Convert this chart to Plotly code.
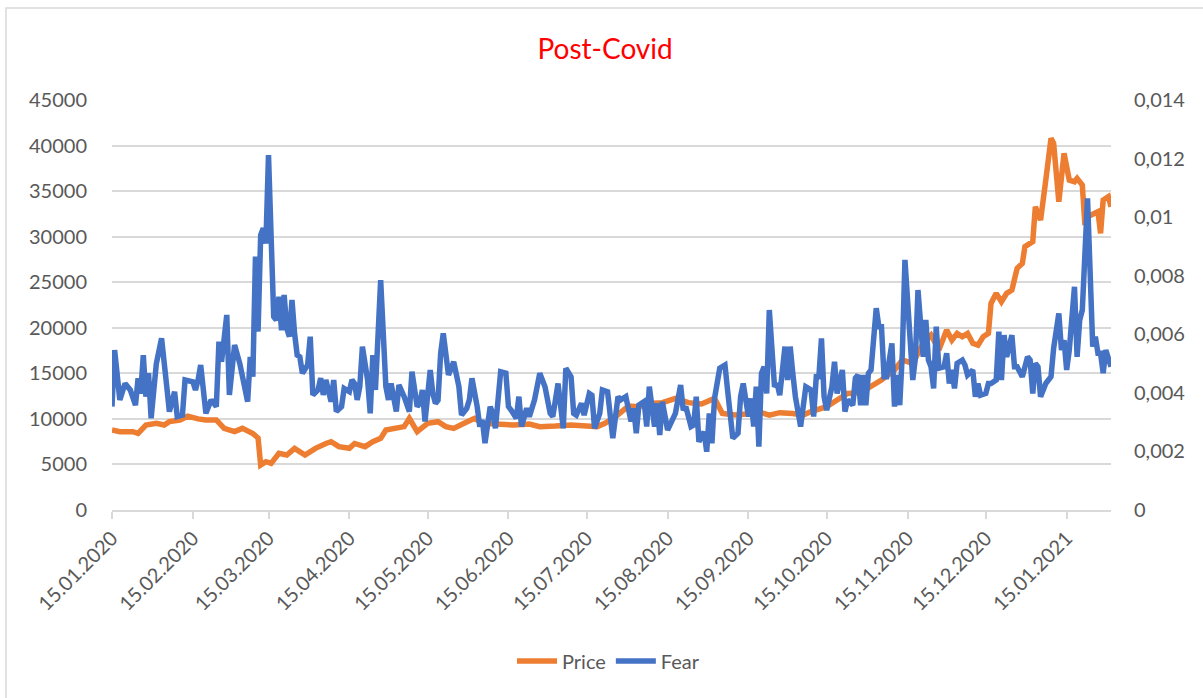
import datetime
import pandas as pd
import plotly.graph_objects as go

start_date = datetime.date(2020, 1, 15)

# Price, day offset from 15.01.2020 -> value
price_day = [0, 3, 8, 10, 13, 17, 20, 22, 26, 29, 33, 36, 40, 43, 47, 50, 54, 56, 57, 59,
             61, 64, 67, 70, 74, 78, 82, 84, 87, 91, 93, 97, 100, 103, 105, 109, 112, 114, 117, 121,
             125, 128, 131, 135, 139, 142, 147, 154, 160, 164, 170, 176, 182, 186, 189, 193, 198, 202, 206, 211,
             216, 221, 226, 231, 234, 239, 245, 249, 252, 256, 261, 265, 268, 274, 278, 282, 287, 292, 295, 300,
             303, 307, 311, 314, 317, 320, 322, 324, 326, 328, 330, 332, 334, 336, 337, 339, 341, 343, 345, 347,
             349, 350, 353, 354, 356, 358, 360, 361, 362, 363, 365, 367, 369, 370, 372, 373, 374, 378, 379, 380,
             382, 383]
price_value = [8780, 8600, 8600, 8420, 9330, 9510, 9330, 9700, 9880, 10300, 10000, 9880, 9880, 8960, 8600, 8960, 8400, 7900, 4940, 5300,
               5120, 6220, 6040, 6770, 6040, 6770, 7300, 7500, 6950, 6770, 7300, 6950, 7500, 7860, 8780, 8960, 9150, 10060, 8600, 9510,
               9690, 9150, 8960, 9510, 10060, 9510, 9440, 9330, 9440, 9150, 9220, 9330, 9220, 9150, 9510, 10240, 11410, 11340, 11700, 11780,
               12250, 11780, 11630, 12250, 10600, 10420, 10600, 10680, 10420, 10680, 10600, 10420, 10800, 11340, 12070, 12800, 12880, 13700, 14270, 15360,
               16460, 16100, 18290, 19200, 17560, 19750, 18650, 19390, 19020, 19390, 18290, 18100, 19020, 19390, 22680, 23780, 22860, 23780, 24140, 26520,
               27070, 28900, 29450, 33290, 31820, 36210, 40790, 40240, 37310, 33840, 39140, 36210, 36030, 36400, 35670, 31280, 32190, 32740, 30360, 34020,
               34390, 33290]

# Fear, day offset from 15.01.2020 -> value
fear_day = [0, 1, 3, 5, 7, 9, 10, 11, 12, 13, 14, 15, 17, 19, 21, 22, 24, 25, 27, 28,
            31, 32, 33, 34, 36, 38, 40, 41, 42, 44, 45, 47, 49, 52, 53, 54, 55, 56, 57, 58,
            59, 60, 62, 63, 64, 65, 66, 67, 68, 69, 70, 71, 72, 73, 75, 76, 77, 79, 80, 81,
            82, 84, 85, 86, 88, 89, 91, 92, 93, 94, 95, 96, 98, 99, 100, 101, 103, 105, 106, 107,
            109, 110, 112, 114, 115, 117, 118, 119, 120, 122, 123, 124, 125, 126, 127, 129, 131, 133, 134, 136,
            137, 138, 140, 141, 142, 143, 145, 146, 147, 149, 151, 152, 153, 155, 156, 157, 159, 160, 162, 164,
            166, 168, 169, 171, 173, 174, 176, 177, 178, 180, 181, 183, 184, 185, 187, 188, 190, 192, 194, 195,
            197, 199, 200, 201, 202, 204, 205, 206, 208, 209, 210, 211, 213, 216, 218, 219, 220, 222, 223, 224,
            225, 227, 228, 229, 230, 231, 233, 235, 236, 238, 240, 241, 242, 244, 245, 246, 247, 248, 249, 250,
            251, 252, 254, 255, 256, 257, 258, 259, 260, 261, 262, 264, 265, 266, 268, 269, 270, 271, 272, 273,
            274, 276, 277, 278, 280, 281, 282, 284, 285, 286, 287, 288, 289, 290, 291, 293, 294, 295, 296, 297,
            299, 300, 301, 302, 303, 304, 307, 308, 309, 311, 312, 313, 314, 315, 316, 317, 319, 320, 321, 322,
            323, 324, 326, 327, 328, 330, 331, 332, 333, 335, 336, 337, 339, 340, 341, 342, 343, 345, 346, 347,
            349, 351, 352, 353, 354, 355, 356, 358, 360, 361, 363, 364, 365, 366, 367, 369, 370, 371, 372, 374,
            376, 377, 378, 379, 380, 381, 383]
fear_value = [0.00353, 0.00546, 0.00376, 0.00432, 0.00410, 0.00358, 0.00450, 0.00398, 0.00529, 0.00387, 0.00467, 0.00313, 0.00500, 0.00586, 0.00421, 0.00336, 0.00404, 0.00319, 0.00324, 0.00444,
              0.00438, 0.00410, 0.00444, 0.00495, 0.00330, 0.00376, 0.00353, 0.00575, 0.00506, 0.00666, 0.00393, 0.00563, 0.00500, 0.00370, 0.00523, 0.00455, 0.00865, 0.00609, 0.00939, 0.00962,
              0.00910, 0.01212, 0.00660, 0.00648, 0.00728, 0.00614, 0.00734, 0.00620, 0.00592, 0.00717, 0.00603, 0.00529, 0.00523, 0.00467, 0.00495, 0.00592, 0.00393, 0.00410, 0.00450, 0.00393,
              0.00444, 0.00370, 0.00444, 0.00336, 0.00353, 0.00415, 0.00404, 0.00444, 0.00432, 0.00376, 0.00421, 0.00558, 0.00444, 0.00330, 0.00529, 0.00410, 0.00785, 0.00421, 0.00376, 0.00432,
              0.00336, 0.00427, 0.00387, 0.00336, 0.00472, 0.00353, 0.00364, 0.00410, 0.00302, 0.00478, 0.00398, 0.00364, 0.00375, 0.00535, 0.00603, 0.00461, 0.00506, 0.00421, 0.00324, 0.00347,
              0.00376, 0.00450, 0.00353, 0.00285, 0.00307, 0.00228, 0.00353, 0.00330, 0.00279, 0.00472, 0.00467, 0.00353, 0.00341, 0.00313, 0.00387, 0.00285, 0.00347, 0.00319, 0.00376, 0.00467,
              0.00421, 0.00330, 0.00319, 0.00432, 0.00279, 0.00484, 0.00455, 0.00330, 0.00324, 0.00364, 0.00324, 0.00398, 0.00392, 0.00279, 0.00330, 0.00410, 0.00404, 0.00245, 0.00387, 0.00376,
              0.00387, 0.00302, 0.00347, 0.00262, 0.00358, 0.00370, 0.00285, 0.00421, 0.00285, 0.00364, 0.00256, 0.00370, 0.00273, 0.00330, 0.00427, 0.00341, 0.00353, 0.00285, 0.00290, 0.00387,
              0.00233, 0.00267, 0.00199, 0.00330, 0.00228, 0.00381, 0.00484, 0.00495, 0.00410, 0.00245, 0.00262, 0.00387, 0.00432, 0.00319, 0.00381, 0.00285, 0.00421, 0.00216, 0.00467, 0.00489,
              0.00398, 0.00683, 0.00421, 0.00432, 0.00392, 0.00489, 0.00558, 0.00444, 0.00558, 0.00467, 0.00387, 0.00285, 0.00364, 0.00421, 0.00410, 0.00319, 0.00455, 0.00455, 0.00586, 0.00387,
              0.00341, 0.00421, 0.00506, 0.00398, 0.00478, 0.00336, 0.00376, 0.00358, 0.00450, 0.00461, 0.00358, 0.00461, 0.00358, 0.00467, 0.00478, 0.00689, 0.00626, 0.00626, 0.00455, 0.00455,
              0.00569, 0.00353, 0.00461, 0.00358, 0.00535, 0.00854, 0.00444, 0.00518, 0.00751, 0.00523, 0.00649, 0.00512, 0.00489, 0.00415, 0.00626, 0.00484, 0.00489, 0.00535, 0.00432, 0.00478,
              0.00415, 0.00501, 0.00512, 0.00495, 0.00461, 0.00478, 0.00387, 0.00432, 0.00392, 0.00398, 0.00432, 0.00432, 0.00444, 0.00609, 0.00444, 0.00597, 0.00523, 0.00597, 0.00489, 0.00489,
              0.00455, 0.00523, 0.00512, 0.00398, 0.00501, 0.00489, 0.00387, 0.00432, 0.00455, 0.00552, 0.00671, 0.00546, 0.00580, 0.00478, 0.00546, 0.00762, 0.00523, 0.00649, 0.00683, 0.01064,
              0.00558, 0.00592, 0.00535, 0.00535, 0.00467, 0.00546, 0.00489]

x_tick_dates = ['2020-01-15', '2020-02-15', '2020-03-15', '2020-04-15', '2020-05-15', '2020-06-15', '2020-07-15',
                '2020-08-15', '2020-09-15', '2020-10-15', '2020-11-15', '2020-12-15', '2021-01-15']
x_tick_labels = ['15.01.2020', '15.02.2020', '15.03.2020', '15.04.2020', '15.05.2020', '15.06.2020', '15.07.2020',
                 '15.08.2020', '15.09.2020', '15.10.2020', '15.11.2020', '15.12.2020', '15.01.2021']
left_ticks = [0, 5000, 10000, 15000, 20000, 25000, 30000, 35000, 40000, 45000]
right_ticks = [0, 0.002, 0.004, 0.006, 0.008, 0.01, 0.012, 0.014]
right_tick_labels = ['0', '0,002', '0,004', '0,006', '0,008', '0,01', '0,012', '0,014']

price_dates = [pd.Timestamp(start_date) + pd.Timedelta(days=d) for d in price_day]
fear_dates = [pd.Timestamp(start_date) + pd.Timedelta(days=d) for d in fear_day]
end_date = pd.Timestamp(start_date) + pd.Timedelta(days=383)

grid_color = '#D9D9D9'
text_color = '#595959'

fig = go.Figure()
fig.add_trace(go.Scatter(x=price_dates, y=price_value, name='Price', mode='lines',
                         line=dict(color='#ED7D31', width=5.5)))
fig.add_trace(go.Scatter(x=fear_dates, y=fear_value, name='Fear', mode='lines', yaxis='y2',
                         line=dict(color='#4472C4', width=5.5)))

fig.update_layout(
    width=1203, height=698,
    margin=dict(l=112, r=92, t=100, b=188),
    paper_bgcolor='white', plot_bgcolor='white',
    font=dict(family='Lato', size=20, color=text_color),
    title=dict(text='Post-Covid', x=0.503, xanchor='center', y=0.93, yanchor='middle',
               font=dict(family='Lato', size=28, color='#FF0000')),
    showlegend=True,
    legend=dict(orientation='h', x=0.497, xanchor='center', y=-0.368, yanchor='middle',
                font=dict(size=20, color=text_color), itemwidth=40),
    xaxis=dict(type='date', range=[pd.Timestamp(start_date), end_date],
               tickmode='array', tickvals=x_tick_dates, ticktext=x_tick_labels, tickangle=-45,
               showgrid=False, showline=True, linecolor=grid_color, linewidth=1.5,
               ticks='outside', ticklen=7, tickcolor=grid_color, tickwidth=1.5, zeroline=False),
    yaxis=dict(range=[0, 45000], tickmode='array', tickvals=left_ticks, ticktext=[str(v) for v in left_ticks],
               showgrid=True, gridcolor=grid_color, gridwidth=1.5, zeroline=False, showline=False,
               ticklabelstandoff=24),
    yaxis2=dict(range=[0, 0.014], tickmode='array', tickvals=right_ticks, ticktext=right_tick_labels,
                overlaying='y', side='right', showgrid=False, zeroline=False, showline=False,
                ticklabelstandoff=22),
    shapes=[dict(type='rect', xref='paper', yref='paper', x0=-0.1061, x1=1.099, y0=-0.4756, y1=1.2244,
                 line=dict(color=grid_color, width=1.5), fillcolor='rgba(0,0,0,0)', layer='below')],
)

# the page body has a default 8px margin; drop it so the figure sits at the window corner
fig.write_html("out.html", config={'displayModeBar': False},
               post_script="document.body.style.margin='0';")
